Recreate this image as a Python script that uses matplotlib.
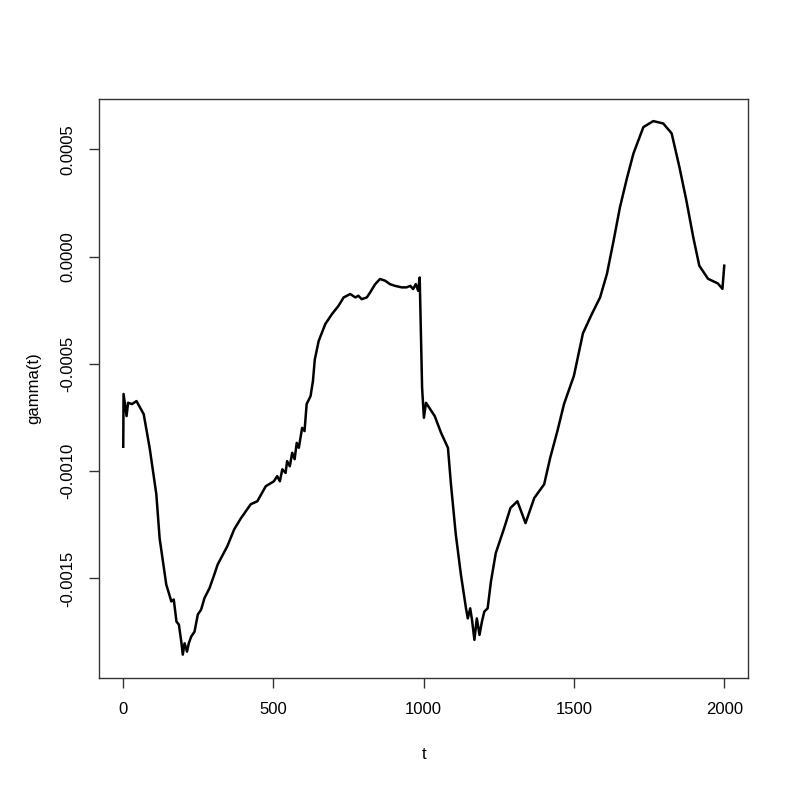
import matplotlib
matplotlib.use("Agg")
import matplotlib.pyplot as plt

# values (gamma in units of 1e-4)
t = [1, 2, 12, 17, 30, 45, 69, 89, 111, 122,
     133, 144, 161, 169, 178, 186, 194, 199, 205, 213, 219, 227, 238, 249,
     260, 271, 288, 304, 315, 347, 370, 392, 425,
     447, 475, 502, 513, 522, 530, 541, 546, 555, 563, 571, 578, 585, 596,
     604, 611, 624, 632, 638, 651,
     673, 695, 717, 734, 756, 773, 783, 794, 811, 822, 839, 855, 872, 888,
     905, 927, 943, 956, 965, 974, 982, 987, 991, 995, 1001, 1008, 1037,
     1058, 1081, 1091, 1107, 1124,
     1131, 1141, 1147, 1155, 1161, 1169, 1177, 1186, 1194, 1202, 1213, 1224,
     1240, 1268, 1289, 1312, 1339, 1368, 1401, 1421, 1445, 1467, 1500, 1530,
     1560, 1587, 1610, 1632, 1653, 1676, 1698, 1731, 1764, 1797, 1825, 1851,
     1874, 1897, 1917, 1946, 1979, 1994, 2000]
gamma_e4 = [-8.86, -6.40, -7.43, -6.81, -6.87, -6.73, -7.34, -8.93, -11.07, -13.13,
            -14.21, -15.28, -16.07, -15.98, -17.01, -17.15, -17.94, -18.55, -18.02,
            -18.41, -18.02, -17.71, -17.48, -16.68, -16.45, -15.92, -15.45, -14.81,
            -14.35, -13.50, -12.71, -12.20, -11.54,
            -11.40, -10.70, -10.47, -10.23, -10.47, -9.91, -10.08, -9.53, -9.77,
            -9.14, -9.44, -8.68, -8.91, -7.98, -8.13, -6.87, -6.50, -5.79, -4.80,
            -3.93,
            -3.14, -2.68, -2.29, -1.90, -1.74, -1.90, -1.82, -1.98, -1.90, -1.67,
            -1.28, -1.04, -1.12, -1.28, -1.36, -1.43, -1.43, -1.36, -1.51, -1.28,
            -1.59, -0.97, -3.60, -6.11, -7.51, -6.81, -7.43, -8.21, -8.91, -10.61,
            -12.94, -14.81,
            -15.45, -16.39, -16.86, -16.39, -16.93, -17.86, -16.86, -17.63, -17.01,
            -16.54, -16.39, -15.14, -13.82, -12.65, -11.71, -11.40, -12.42, -11.25,
            -10.61, -9.38, -8.13, -6.87, -5.55, -3.57, -2.66, -1.90, -0.79, 0.75,
            2.30, 3.64, 4.81, 6.04, 6.32, 6.21, 5.75, 4.17, 2.62, 0.90, -0.42,
            -1.03, -1.25, -1.50, -0.42]
gamma = [g * 1e-4 for g in gamma_e4]

x_ticks = [0, 500, 1000, 1500, 2000]
y_ticks = [0.0005, 0.0, -0.0005, -0.0010, -0.0015]
y_labels = ["0.0005", "0.0000", "-0.0005", "-0.0010", "-0.0015"]

plt.rcParams['font.family'] = ['Liberation Sans', 'DejaVu Sans']

fig = plt.figure(figsize=(8, 7.99), dpi=100)
ax = fig.add_axes([0.124, 0.1514, 0.811, 0.7247])
ax.plot(t, gamma, color='black', lw=1.8)

ax.set_xlim(-79, 2079)
ax.set_ylim(-0.001964, 0.000735)
ax.set_xticks(x_ticks)
ax.set_xticklabels([str(v) for v in x_ticks])
ax.set_yticks(y_ticks)
ax.set_yticklabels(y_labels, rotation=90, va='center')
ax.tick_params(direction='out', length=7, width=1, labelsize=12, pad=10,
               color='#333333')
for s in ax.spines.values():
    s.set_color('#333333')
    s.set_linewidth(1)

ax.set_xlabel('t', fontsize=12, labelpad=22)
ax.set_ylabel('gamma(t)', fontsize=12, labelpad=14)

fig.savefig('out.png', dpi=100)
